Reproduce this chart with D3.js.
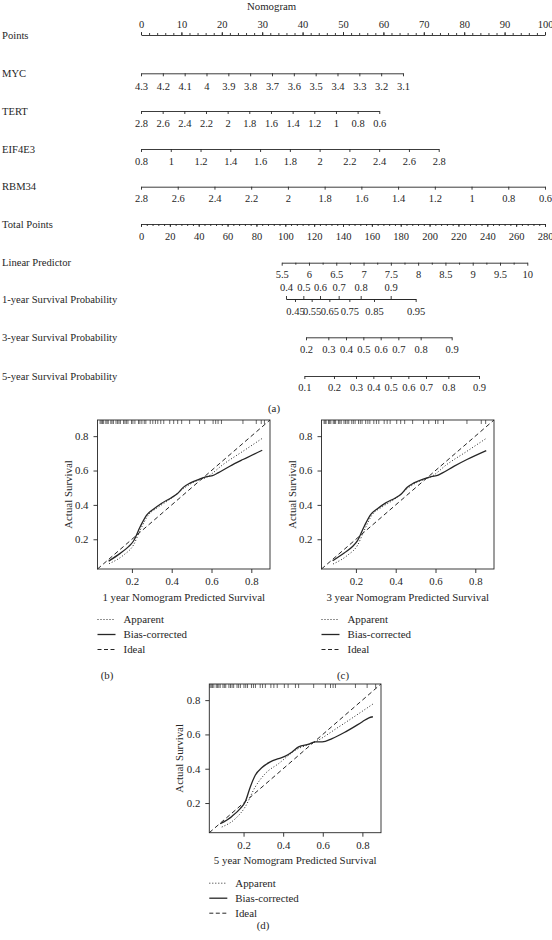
<!DOCTYPE html>
<html><head><meta charset="utf-8">
<script src="https://cdn.jsdelivr.net/npm/d3@7"></script>
<style>
body{margin:0;background:#fff}
svg{display:block}
text{font-family:"Liberation Serif","DejaVu Serif",serif}
</style>
</head><body>
<svg id="c" width="552" height="940"></svg>
<script>
// ---------------- DATA ----------------
const rowLabels = ["Points","MYC","TERT","EIF4E3","RBM34","Total Points","Linear Predictor",
  "1-year Survival Probability","3-year Survival Probability","5-year Survival Probability"];
const pointsTicks = [0,10,20,30,40,50,60,70,80,90,100];
const mycTicks = [4.3,4.2,4.1,4,3.9,3.8,3.7,3.6,3.5,3.4,3.3,3.2,3.1];
const mycPoints = [0,64.85];          // points at first / last tick
const tertTicks = [2.8,2.6,2.4,2.2,2,1.8,1.6,1.4,1.2,1,0.8,0.6];
const tertPoints = [0,58.98];
const eifTicks = [0.8,1,1.2,1.4,1.6,1.8,2,2.2,2.4,2.6,2.8];
const eifPoints = [0,73.69];
const rbmTicks = [2.8,2.6,2.4,2.2,2,1.8,1.6,1.4,1.2,1,0.8,0.6];
const rbmPoints = [0,100];
const totalTicks = [0,20,40,60,80,100,120,140,160,180,200,220,240,260,280];
const lpTicks = [5.5,6,6.5,7,7.5,8,8.5,9,9.5,10];
const lpTotal = [97.51,267.73];       // total points at lp 5.5 / 10
const surv1Vals  = [0.4,0.45,0.5,0.55,0.6,0.65,0.7,0.75,0.8,0.85,0.9,0.95];
const surv1Total = [100.49,106.73,112.51,118.28,124.06,130.53,137.0,144.39,152.25,161.49,173.04,190.36];
const surv1Upper = [0.4,0.5,0.6,0.7,0.8,0.9];
const surv1Lower = [0.45,0.55,0.65,0.75,0.85,0.95];
const surv3Vals  = [0.2,0.3,0.4,0.5,0.6,0.7,0.8,0.9];
const surv3Total = [114.36,129.83,142.08,154.09,166.11,178.35,193.83,215.32];
const surv5Vals  = [0.1,0.2,0.3,0.4,0.5,0.6,0.7,0.8,0.9];
const surv5Total = [113.2,133.76,149.01,161.02,173.04,185.28,197.52,213.0,234.26];

const calLimits = [0.027,0.894];
const calTicks = [0.2,0.4,0.6,0.8];
const legendLabels = ["Apparent","Bias-corrected","Ideal"];

// panel (b) 1 year
const bAppX = [0.085,0.158,0.208,0.242,0.283,0.325,0.40,0.458,0.508,0.583,0.658,0.758,0.855];
const bAppY = [0.058,0.108,0.167,0.254,0.342,0.381,0.44,0.494,0.531,0.566,0.635,0.712,0.787];
const bBcX  = [0.083,0.141,0.183,0.208,0.242,0.275,0.308,0.35,0.40,0.428,0.458,0.492,0.542,0.583,0.605,0.633,0.692,0.758,0.855];
const bBcY  = [0.073,0.118,0.157,0.19,0.274,0.342,0.375,0.41,0.443,0.465,0.502,0.527,0.551,0.566,0.57,0.586,0.625,0.664,0.718];
const bRug = [0.040,0.046,0.052,0.058,0.069,0.075,0.081,0.094,0.10,0.107,0.12,0.128,0.135,0.142,0.158,0.165,0.172,0.18,0.198,0.205,0.215,0.233,0.24,0.25,0.262,0.27,0.292,0.305,0.318,0.33,0.345,0.36,0.39,0.41,0.43,0.45,0.49,0.54,0.566,0.608,0.621,0.633,0.65,0.758,0.825,0.85,0.866];

// panel (c) 3 year
const cAppX = [0.085,0.158,0.208,0.242,0.283,0.325,0.40,0.458,0.508,0.583,0.658,0.758,0.855];
const cAppY = [0.056,0.107,0.165,0.252,0.345,0.383,0.438,0.495,0.532,0.567,0.636,0.712,0.787];
const cBcX  = [0.083,0.141,0.183,0.208,0.242,0.275,0.308,0.35,0.40,0.428,0.458,0.492,0.542,0.583,0.605,0.633,0.692,0.758,0.855];
const cBcY  = [0.075,0.12,0.158,0.192,0.276,0.345,0.378,0.412,0.442,0.464,0.503,0.528,0.552,0.566,0.57,0.585,0.624,0.664,0.716];
const cRug = [0.040,0.045,0.05,0.062,0.068,0.074,0.086,0.092,0.098,0.112,0.119,0.126,0.14,0.148,0.156,0.164,0.179,0.187,0.196,0.213,0.222,0.231,0.249,0.26,0.27,0.29,0.303,0.315,0.342,0.357,0.372,0.405,0.425,0.445,0.485,0.54,0.566,0.6,0.612,0.64,0.758,0.83,0.852];

// panel (d) 5 year
const dAppX = [0.09,0.158,0.208,0.259,0.31,0.377,0.462,0.563,0.681,0.853];
const dAppY = [0.06,0.108,0.177,0.294,0.372,0.43,0.508,0.557,0.644,0.777];
const dBcX  = [0.082,0.141,0.183,0.208,0.234,0.259,0.293,0.335,0.377,0.411,0.445,0.478,0.529,0.563,0.597,0.647,0.715,0.80,0.833,0.853];
const dBcY  = [0.079,0.122,0.167,0.206,0.294,0.362,0.407,0.44,0.459,0.473,0.498,0.527,0.543,0.557,0.557,0.576,0.615,0.674,0.697,0.703];
const dRug = [0.031,0.037,0.043,0.05,0.062,0.068,0.075,0.082,0.096,0.103,0.11,0.126,0.134,0.142,0.15,0.167,0.175,0.184,0.202,0.211,0.22,0.24,0.25,0.26,0.284,0.296,0.31,0.338,0.353,0.37,0.406,0.425,0.462,0.478,0.554,0.613,0.639,0.652,0.664,0.765,0.824,0.867];

// ---------------- DRAW ----------------
const svg = d3.select("#c");
const ink = "#262626";
const FONT = "Liberation Serif, DejaVu Serif, serif";
const fmt = d => String(d);

const xPts = d3.scaleLinear().domain([0,100]).range([141,545]);
const xTot = d3.scaleLinear().domain([0,280]).range([141,545]);

svg.append("text").attr("x",247).attr("y",10).attr("font-size",10.8)
  .attr("fill",ink).text("Nomogram");

const rowY = [35,73.3,111,149,186.7,224,262.7,299,337.3,376];
rowLabels.forEach((t,i)=>{
  svg.append("text").attr("x",2).attr("y",rowY[i]+3.6).attr("font-size",10.6)
    .attr("fill",ink).text(t);
});

function styleAxis(g){
  g.attr("font-family",FONT).attr("font-size",10.5).attr("color",ink);
  g.selectAll("path,line").attr("stroke-width",0.9);
}
// side: "top" or "bottom"; base = distance from axis line to label baseline
function axisRow(y, scale, ticks, side, base, minor, ts){
  ts = ts || 3;
  const g = svg.append("g").attr("transform",`translate(0,${y})`);
  let ax;
  if(side==="bottom") ax = d3.axisBottom(scale).tickPadding(base - ts - 7.4);
  else ax = d3.axisTop(scale).tickPadding(base - ts);
  ax.tickValues(ticks).tickSize(ts).tickSizeOuter(0).tickFormat(fmt);
  g.call(ax);
  styleAxis(g);
  if(minor){
    const m = g.append("g").call((side==="bottom"?d3.axisBottom:d3.axisTop)(scale)
      .tickValues(minor).tickSize(2).tickFormat(""));
    m.select(".domain").remove();
    styleAxis(m);
  }
  return g;
}

// Points
axisRow(rowY[0], xPts, pointsTicks, "top", 7.5, d3.range(0,101,2));
// variables
function varScale(ticks, pts){
  return d3.scaleLinear().domain([ticks[0], ticks[ticks.length-1]]).range([xPts(pts[0]), xPts(pts[1])]);
}
axisRow(rowY[1], varScale(mycTicks,mycPoints), mycTicks, "bottom", 16.2);
axisRow(rowY[2], varScale(tertTicks,tertPoints), tertTicks, "bottom", 16.2);
axisRow(rowY[3], varScale(eifTicks,eifPoints), eifTicks, "bottom", 16.2);
axisRow(rowY[4], varScale(rbmTicks,rbmPoints), rbmTicks, "bottom", 15);
// total points
axisRow(rowY[5], xTot, totalTicks, "bottom", 16, d3.range(0,281,4));
// linear predictor
const lpScale = d3.scaleLinear().domain([lpTicks[0], lpTicks[lpTicks.length-1]]).range(lpTotal.map(xTot));
axisRow(rowY[6], lpScale, lpTicks, "bottom", 14.8, d3.range(5.75,10,0.5));
// 1-year
const s1 = d3.scaleLinear().domain(surv1Vals).range(surv1Total.map(xTot));
axisRow(rowY[7], s1, surv1Upper, "top", 8);
axisRow(rowY[7], s1, surv1Lower, "bottom", 16);
// 3-year, 5-year
const s3 = d3.scaleLinear().domain(surv3Vals).range(surv3Total.map(xTot));
axisRow(rowY[8], s3, surv3Vals, "bottom", 15.5);
const s5 = d3.scaleLinear().domain(surv5Vals).range(surv5Total.map(xTot));
axisRow(rowY[9], s5, surv5Vals, "bottom", 15);

svg.append("text").attr("x",274).attr("y",411.5).attr("text-anchor","middle")
  .attr("font-size",10.8).attr("fill",ink).text("(a)");

// ------------- calibration plots -------------
function calPlot(o){
  const x = d3.scaleLinear().domain(calLimits).range([o.left,o.right]);
  const y = d3.scaleLinear().domain(calLimits).range([o.bottom,o.top]);
  const g = svg.append("g");
  g.append("rect").attr("x",o.left).attr("y",o.top).attr("width",o.right-o.left)
    .attr("height",o.bottom-o.top).attr("fill","none").attr("stroke",ink).attr("stroke-width",0.9);
  const gx = g.append("g").attr("transform",`translate(0,${o.bottom})`)
    .call(d3.axisBottom(x).tickValues(calTicks).tickSize(4).tickPadding(4.5).tickFormat(fmt));
  gx.select(".domain").remove(); styleAxis(gx); gx.attr("font-size",10.8);
  const gy = g.append("g").attr("transform",`translate(${o.left},0)`)
    .call(d3.axisLeft(y).tickValues(calTicks).tickSize(4).tickPadding(5).tickFormat(fmt));
  gy.select(".domain").remove(); styleAxis(gy); gy.attr("font-size",10.8);
  // rug
  g.append("g").selectAll("line").data(o.rug).join("line")
    .attr("x1",d=>x(d)).attr("x2",d=>x(d)).attr("y1",o.top).attr("y2",o.top+4)
    .attr("stroke",ink).attr("stroke-width",0.7);
  // ideal
  g.append("path").datum(calLimits)
    .attr("d",d3.line().x(d=>x(d)).y(d=>y(d)))
    .attr("fill","none").attr("stroke",ink).attr("stroke-width",1).attr("stroke-dasharray","4.5,3");
  const line = d3.line().curve(d3.curveMonotoneX).x(d=>x(d[0])).y(d=>y(d[1]));
  g.append("path").datum(d3.zip(o.appX,o.appY)).attr("d",line)
    .attr("fill","none").attr("stroke",ink).attr("stroke-width",1).attr("stroke-dasharray","1,2");
  g.append("path").datum(d3.zip(o.bcX,o.bcY)).attr("d",line)
    .attr("fill","none").attr("stroke",ink).attr("stroke-width",1.3);
  // titles
  g.append("text").attr("x",(o.left+o.right)/2).attr("y",o.bottom+31.5).attr("text-anchor","middle")
    .attr("font-size",10.9).attr("fill",ink).text(o.xtitle);
  g.append("text").attr("transform",`translate(${o.left-26},${(o.top+o.bottom)/2}) rotate(-90)`)
    .attr("text-anchor","middle").attr("font-size",10.9).attr("fill",ink).text("Actual Survival");
  // legend
  const dash = ["1,2",null,"4,2.5"];
  const wid = [1,1.3,1];
  legendLabels.forEach((t,i)=>{
    const ly = o.bottom + 50.5 + i*15;
    g.append("line").attr("x1",o.left).attr("x2",o.left+18).attr("y1",ly).attr("y2",ly)
      .attr("stroke",ink).attr("stroke-width",wid[i]).attr("stroke-dasharray",dash[i]);
    g.append("text").attr("x",o.left+26).attr("y",ly+3.6).attr("font-size",10.9)
      .attr("fill",ink).text(t);
  });
  g.append("text").attr("x",o.labX).attr("y",o.labY).attr("text-anchor","middle")
    .attr("font-size",10.8).attr("fill",ink).text(o.lab);
}

calPlot({left:97.5,right:270,top:420,bottom:569,appX:bAppX,appY:bAppY,bcX:bBcX,bcY:bBcY,rug:bRug,
  xtitle:"1 year Nomogram Predicted Survival",lab:"(b)",labX:107,labY:679});
calPlot({left:321.5,right:494,top:420,bottom:569,appX:cAppX,appY:cAppY,bcX:cBcX,bcY:cBcY,rug:cRug,
  xtitle:"3 year Nomogram Predicted Survival",lab:"(c)",labX:343,labY:679});
calPlot({left:209.3,right:381,top:684,bottom:832.7,appX:dAppX,appY:dAppY,bcX:dBcX,bcY:dBcY,rug:dRug,
  xtitle:"5 year Nomogram Predicted Survival",lab:"(d)",labX:263,labY:929});
</script>
</body></html>
